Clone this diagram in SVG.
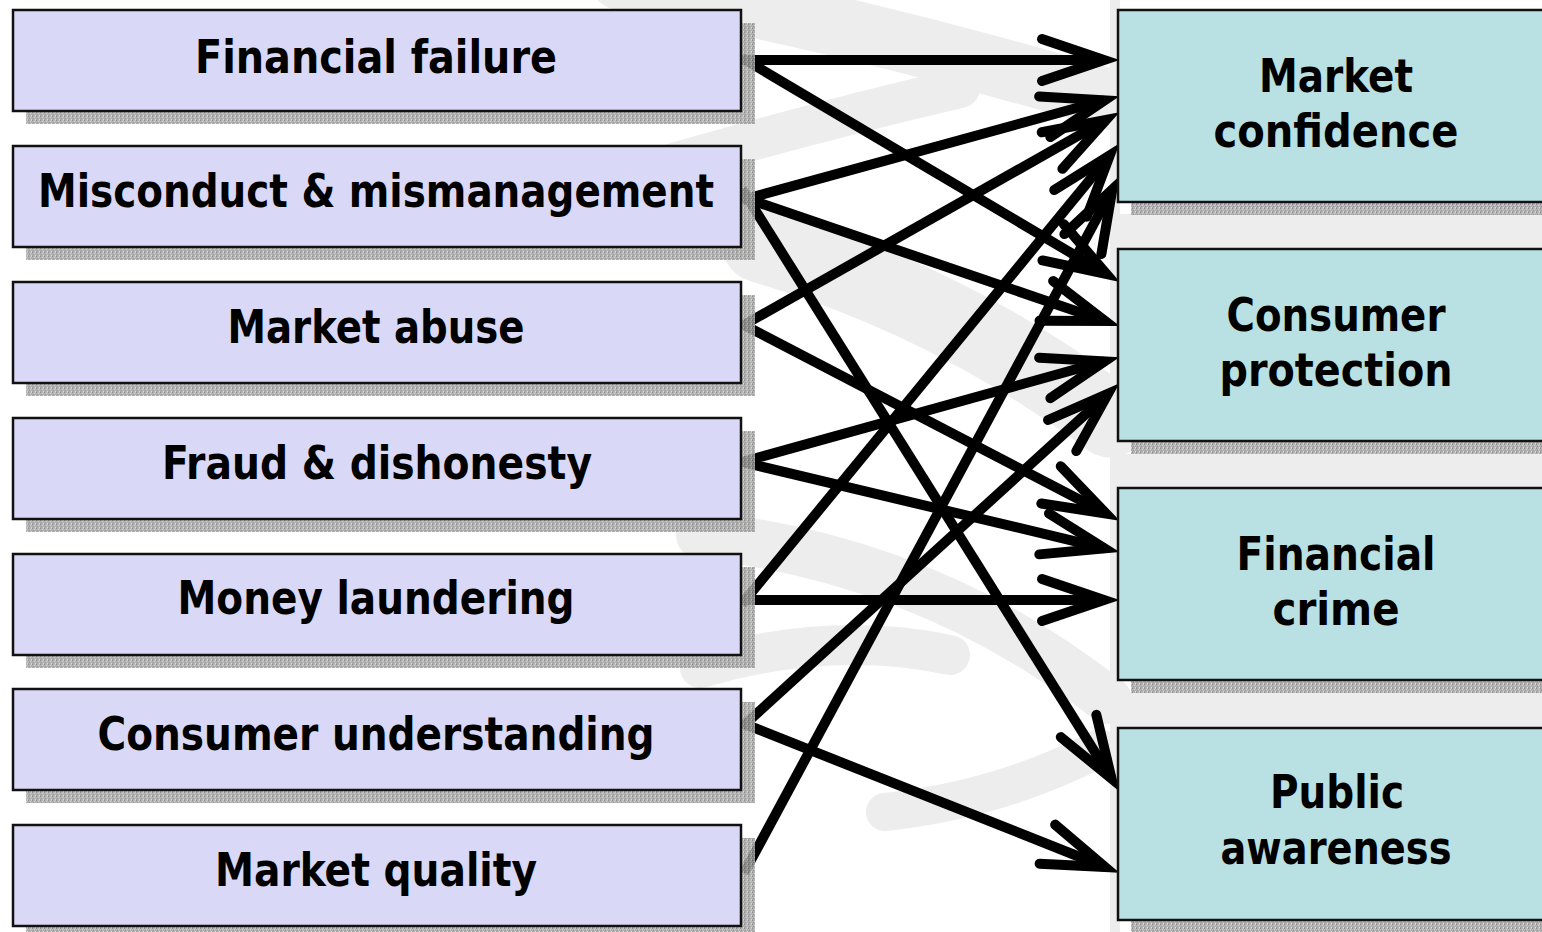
<svg xmlns="http://www.w3.org/2000/svg" width="1542" height="932" viewBox="0 0 1542 932">
  <defs>
    <style>
      .src { fill: #d9d9f7; stroke: #111; stroke-width: 2.5; }
      .dst { fill: #b9e0e3; stroke: #111; stroke-width: 2.5; }
      .shadow { fill: url(#stipple); opacity: 0.85; }
      .lbl { font-family: "DejaVu Sans Condensed", "DejaVu Sans", sans-serif; font-stretch: condensed; font-weight: bold; font-size: 47px; text-anchor: middle; fill: #000; }
      .link { fill: none; stroke: #000; stroke-width: 10; marker-end: url(#arrow); }
      .swoosh { fill: none; stroke: #ededed; stroke-linecap: round; stroke-linejoin: round; }
    </style>
    <pattern id="stipple" width="4" height="4" patternUnits="userSpaceOnUse">
      <rect width="4" height="4" fill="#a4a4a4"/>
      <rect x="0" y="0" width="1" height="1" fill="#7a7a7a"/>
      <rect x="2" y="1" width="1" height="1" fill="#cccccc"/>
      <rect x="1" y="2" width="1" height="1" fill="#878787"/>
      <rect x="3" y="3" width="1" height="1" fill="#d4d4d4"/>
      <rect x="3" y="0" width="1" height="1" fill="#c0c0c0"/>
      <rect x="0" y="3" width="1" height="1" fill="#909090"/>
    </pattern>
    <marker id="arrow" markerUnits="userSpaceOnUse" orient="auto" refX="0" refY="0" markerWidth="1" markerHeight="1" overflow="visible">
      <path d="M-62,-21 L0,0 L-62,21" fill="none" stroke="#000" stroke-width="10" stroke-linecap="round" stroke-linejoin="miter"/>
    </marker>
  </defs>

  <rect width="1542" height="932" fill="#fff"/>

  <!-- faint watermark swooshes behind everything -->
  <g id="background">
    <path class="swoosh" stroke-width="60" d="M620,-20 Q880,30 1130,105"/>
    <path class="swoosh" stroke-width="40" d="M600,185 Q780,130 960,88"/>
    <path class="swoosh" stroke-width="75" d="M760,245 Q950,300 1110,420"/>
    <path class="swoosh" stroke-width="48" d="M700,535 Q930,560 1108,700"/>
    <path class="swoosh" stroke-width="40" d="M700,668 Q830,630 950,655"/>
    <path class="swoosh" stroke-width="38" d="M885,812 Q1000,800 1100,748"/>
    <rect x="1110" y="0" width="10" height="932" fill="#ededed"/>
    <rect x="1118" y="214" width="424" height="34" fill="#ededed"/>
    <rect x="1118" y="454" width="424" height="33" fill="#ededed"/>
    <rect x="1118" y="693" width="424" height="34" fill="#ededed"/>
  </g>

  <!-- arrows from risk sources to objectives -->
  <g id="connectors">
    <line class="link" x1="742" y1="60" x2="1104" y2="60"/>
    <line class="link" x1="742" y1="58" x2="1106.5" y2="274"/>
    <line class="link" x1="742" y1="200" x2="1104.5" y2="100.3"/>
    <line class="link" x1="742" y1="197" x2="1105" y2="321"/>
    <line class="link" x1="742" y1="189" x2="1111.5" y2="778.5"/>
    <line class="link" x1="742" y1="326" x2="1106" y2="120"/>
    <line class="link" x1="742" y1="324" x2="1106" y2="513.5"/>
    <line class="link" x1="742" y1="462" x2="1104.5" y2="361.3"/>
    <line class="link" x1="742" y1="462" x2="1104.5" y2="548.3"/>
    <line class="link" x1="742" y1="604" x2="1109.8" y2="155.4"/>
    <line class="link" x1="742" y1="600" x2="1104" y2="600"/>
    <line class="link" x1="742" y1="727" x2="1108" y2="393.8"/>
    <line class="link" x1="742" y1="723" x2="1105" y2="867"/>
    <line class="link" x1="744" y1="873" x2="1112.3" y2="189.5"/>
  </g>

  <!-- risk sources -->
  <g id="node-financial-failure">
    <rect class="shadow" x="26" y="23" width="729" height="101"/>
    <rect class="src" x="13" y="10" width="728" height="101"/>
    <text class="lbl" x="376" y="73" textLength="362" lengthAdjust="spacingAndGlyphs">Financial failure</text>
  </g>
  <g id="node-misconduct">
    <rect class="shadow" x="26" y="159" width="729" height="101"/>
    <rect class="src" x="13" y="146" width="728" height="101"/>
    <text class="lbl" x="376" y="207" textLength="676" lengthAdjust="spacingAndGlyphs">Misconduct &amp; mismanagement</text>
  </g>
  <g id="node-market-abuse">
    <rect class="shadow" x="26" y="295" width="729" height="101"/>
    <rect class="src" x="13" y="282" width="728" height="101"/>
    <text class="lbl" x="376" y="343" textLength="297" lengthAdjust="spacingAndGlyphs">Market abuse</text>
  </g>
  <g id="node-fraud">
    <rect class="shadow" x="26" y="431" width="729" height="101"/>
    <rect class="src" x="13" y="418" width="728" height="101"/>
    <text class="lbl" x="377" y="479" textLength="430" lengthAdjust="spacingAndGlyphs">Fraud &amp; dishonesty</text>
  </g>
  <g id="node-money-laundering">
    <rect class="shadow" x="26" y="567" width="729" height="101"/>
    <rect class="src" x="13" y="554" width="728" height="101"/>
    <text class="lbl" x="376" y="614" textLength="397" lengthAdjust="spacingAndGlyphs">Money laundering</text>
  </g>
  <g id="node-consumer-understanding">
    <rect class="shadow" x="26" y="702" width="729" height="101"/>
    <rect class="src" x="13" y="689" width="728" height="101"/>
    <text class="lbl" x="376" y="750" textLength="557" lengthAdjust="spacingAndGlyphs">Consumer understanding</text>
  </g>
  <g id="node-market-quality">
    <rect class="shadow" x="26" y="838" width="729" height="101"/>
    <rect class="src" x="13" y="825" width="728" height="101"/>
    <text class="lbl" x="376" y="886" textLength="322" lengthAdjust="spacingAndGlyphs">Market quality</text>
  </g>

  <!-- regulatory objectives -->
  <g id="node-market-confidence">
    <rect class="shadow" x="1131" y="23" width="450" height="192"/>
    <rect class="dst" x="1118" y="10" width="450" height="192"/>
    <text class="lbl" x="1336" y="92" textLength="154" lengthAdjust="spacingAndGlyphs">Market</text>
    <text class="lbl" x="1336" y="147" textLength="245" lengthAdjust="spacingAndGlyphs">confidence</text>
  </g>
  <g id="node-consumer-protection">
    <rect class="shadow" x="1131" y="262" width="450" height="192"/>
    <rect class="dst" x="1118" y="249" width="450" height="192"/>
    <text class="lbl" x="1336" y="331" textLength="219" lengthAdjust="spacingAndGlyphs">Consumer</text>
    <text class="lbl" x="1336" y="386" textLength="233" lengthAdjust="spacingAndGlyphs">protection</text>
  </g>
  <g id="node-financial-crime">
    <rect class="shadow" x="1131" y="501" width="450" height="192"/>
    <rect class="dst" x="1118" y="488" width="450" height="192"/>
    <text class="lbl" x="1336" y="570" textLength="199" lengthAdjust="spacingAndGlyphs">Financial</text>
    <text class="lbl" x="1336" y="625" textLength="127" lengthAdjust="spacingAndGlyphs">crime</text>
  </g>
  <g id="node-public-awareness">
    <rect class="shadow" x="1131" y="741" width="450" height="192"/>
    <rect class="dst" x="1118" y="728" width="450" height="192"/>
    <text class="lbl" x="1337" y="808" textLength="134" lengthAdjust="spacingAndGlyphs">Public</text>
    <text class="lbl" x="1336" y="864" textLength="231" lengthAdjust="spacingAndGlyphs">awareness</text>
  </g>
</svg>
